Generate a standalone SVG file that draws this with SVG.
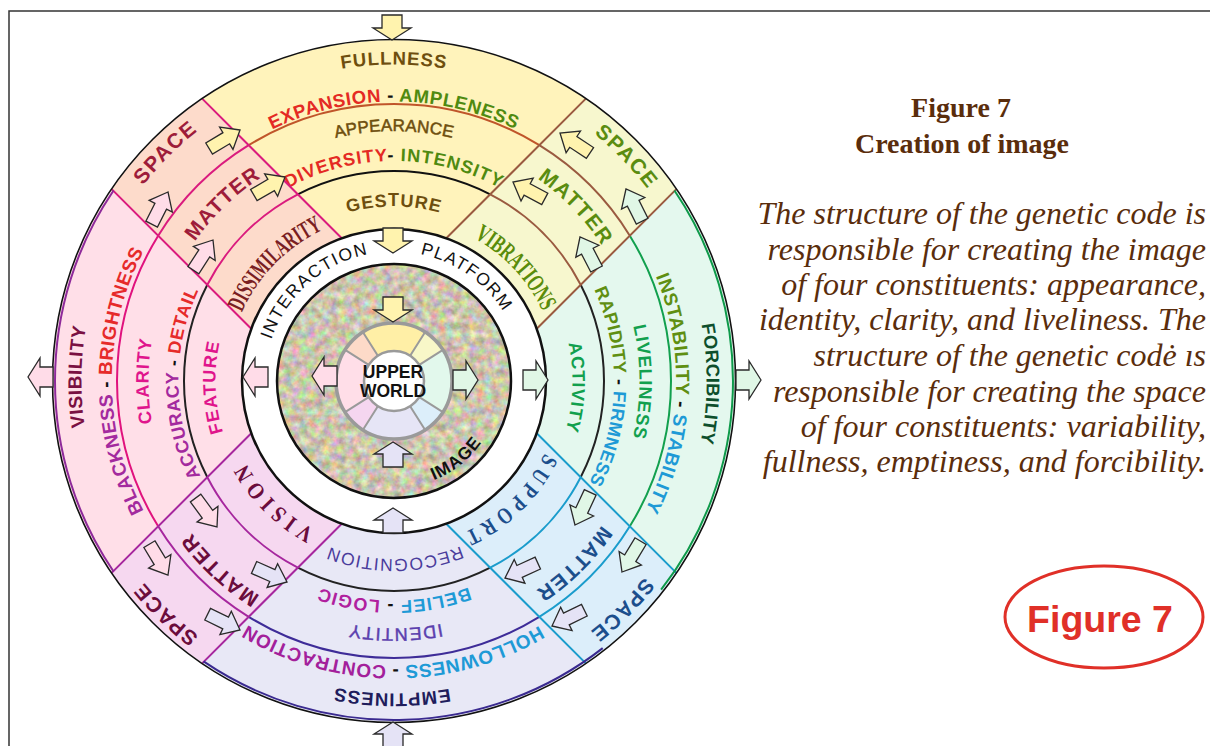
<svg xmlns="http://www.w3.org/2000/svg" width="1210" height="746" viewBox="0 0 1210 746">
<style>
.s{font-family:"Liberation Sans",Arial,sans-serif;font-weight:bold}
.r{font-family:"Liberation Sans",Arial,sans-serif;font-weight:normal}
.sf{font-family:"Liberation Serif","Times New Roman",serif}
.ln{fill:none;stroke-width:2}
.arr{stroke:#2a2a2a;stroke-width:1.3;stroke-linejoin:miter}
.ay{fill:#FFF3AE}.ap{fill:#FFDCE8}.am{fill:#E0F7E6}.al{fill:#E5E3F6}
.ug{fill:none;stroke:#9A9A9A}
</style>
<defs>
<path id="a316_5" d="M394,697.5 A316.5,316.5 0 1 1 394,64.5 A316.5,316.5 0 1 1 394,697.5"/>
<path id="a279_5" d="M394,660.5 A279.5,279.5 0 1 1 394,101.5 A279.5,279.5 0 1 1 394,660.5"/>
<path id="a250" d="M394,631 A250,250 0 1 1 394,131 A250,250 0 1 1 394,631"/>
<path id="a220" d="M394,601 A220,220 0 1 1 394,161 A220,220 0 1 1 394,601"/>
<path id="a174_5" d="M394,555.5 A174.5,174.5 0 1 1 394,206.5 A174.5,174.5 0 1 1 394,555.5"/>
<path id="a312_5" d="M394,693.5 A312.5,312.5 0 1 1 394,68.5 A312.5,312.5 0 1 1 394,693.5"/>
<path id="a282" d="M394,663 A282,282 0 1 1 394,99 A282,282 0 1 1 394,663"/>
<path id="a245_5" d="M394,626.5 A245.5,245.5 0 1 1 394,135.5 A245.5,245.5 0 1 1 394,626.5"/>
<path id="a178_5" d="M394,559.5 A178.5,178.5 0 1 1 394,202.5 A178.5,178.5 0 1 1 394,559.5"/>
<path id="a215_5" d="M394,596.5 A215.5,215.5 0 1 1 394,165.5 A215.5,215.5 0 1 1 394,596.5"/>
<path id="a318" d="M394,699 A318,318 0 1 1 394,63 A318,318 0 1 1 394,699"/>
<path id="a321" d="M394,702 A321,321 0 1 1 394,60 A321,321 0 1 1 394,702"/>
<path id="a243" d="M394,624 A243,243 0 1 1 394,138 A243,243 0 1 1 394,624"/>
<path id="a248" d="M394,629 A248,248 0 1 1 394,133 A248,248 0 1 1 394,629"/>
<path id="a253" d="M394,634 A253,253 0 1 1 394,128 A253,253 0 1 1 394,634"/>
<path id="a167" d="M394,548 A167,167 0 1 1 394,214 A167,167 0 1 1 394,548"/>
<path id="a164" d="M394,545 A164,164 0 1 1 394,217 A164,164 0 1 1 394,545"/>
<path id="a169" d="M394,550 A169,169 0 1 1 394,212 A169,169 0 1 1 394,550"/>
<path id="a129_5" d="M394,510.5 A129.5,129.5 0 1 1 394,251.5 A129.5,129.5 0 1 1 394,510.5"/>
<path id="b312_5" d="M394,68.5 A312.5,312.5 0 1 1 394,693.5 A312.5,312.5 0 1 1 394,68.5"/>
<path id="b284_5" d="M394,96.5 A284.5,284.5 0 1 1 394,665.5 A284.5,284.5 0 1 1 394,96.5"/>
<path id="b247_5" d="M394,133.5 A247.5,247.5 0 1 1 394,628.5 A247.5,247.5 0 1 1 394,133.5"/>
<path id="b219_5" d="M394,161.5 A219.5,219.5 0 1 1 394,600.5 A219.5,219.5 0 1 1 394,161.5"/>
<path id="b178" d="M394,203 A178,178 0 1 1 394,559 A178,178 0 1 1 394,203"/>
<path id="c107" d="M394,274 A107,107 0 1 0 394,488 A107,107 0 1 0 394,274"/>
<path id="ab" d="M0,0 L-12,-19 L-12,-10 L-25,-10 L-25,10 L-12,10 L-12,19 Z"/>
<path id="as" d="M0,0 L-16,-13 L-16,-6.5 L-36,-6.5 L-36,6.5 L-16,6.5 L-16,13 Z"/>
<filter id="tex" x="-5%" y="-5%" width="110%" height="110%" color-interpolation-filters="sRGB">
<feTurbulence type="fractalNoise" baseFrequency="0.13" numOctaves="3" seed="4" result="n"/>
<feColorMatrix in="n" type="matrix" values="0.55 0 0 0 0.525  0 0.55 0 0 0.5  0 0 0.6 0 0.38  0 0 0 0 1" result="c"/>
<feGaussianBlur in="c" stdDeviation="0.6" result="b"/>
<feComposite in="b" in2="SourceGraphic" operator="in"/>
</filter>
</defs>

<path id="frame" d="M9,746 V11 H1210" fill="none" stroke="#333" stroke-width="1.5"/>

<g id="sector-top">
<path d="M202.41,98.91 A341,341 0 0 1 585.59,98.91 L446.24,238.26 A152,152 0 0 0 341.76,238.26 Z" fill="#FFF3BB"/>
<path class="ln" stroke="#C0552A" d="M248.68,145.18 A277,277 0 0 1 539.32,145.18"/>
<path class="ln" stroke="#111" d="M297.82,194.32 A210,210 0 0 1 490.18,194.32"/>
<text class="s" font-size="18.5" fill="#6E4E0E" letter-spacing="1" text-anchor="middle"><textPath href="#a316_5" startOffset="50%">FULLNESS</textPath></text>
<text class="s" font-size="18.5" letter-spacing="0.65" text-anchor="middle"><textPath href="#a279_5" startOffset="50%"><tspan fill="#E42A24">EXPANSION</tspan><tspan fill="#111"> - </tspan><tspan fill="#4F8A10">AMPLENESS</tspan></textPath></text>
<text class="r" font-size="17" fill="#6E4E0E" stroke="#6E4E0E" stroke-width="0.5" letter-spacing="0.2" text-anchor="middle"><textPath href="#a250" startOffset="50%">APPEARANCE</textPath></text>
<text class="s" font-size="18" letter-spacing="1.1" text-anchor="middle"><textPath href="#a220" startOffset="50%"><tspan fill="#E42A24">DIVERSITY</tspan><tspan fill="#111">- </tspan><tspan fill="#4F8A10">INTENSITY</tspan></textPath></text>
<text class="s" font-size="18" fill="#6E4E0E" letter-spacing="1" text-anchor="middle"><textPath href="#a174_5" startOffset="50%">GESTURE</textPath></text>
</g>

<g id="sector-right">
<path d="M676.09,189.41 A341,341 0 0 1 676.09,572.59 L536.74,433.24 A152,152 0 0 0 536.74,328.76 Z" fill="#E4F8EE"/>
<path class="ln" stroke="#12A04E" d="M629.82,235.68 A277,277 0 0 1 629.82,526.32"/>
<path class="ln" stroke="#222" d="M580.68,284.82 A210,210 0 0 1 580.68,477.18"/>
<text class="s" font-size="18.5" fill="#0D4F2C" letter-spacing="0.3" text-anchor="middle"><textPath href="#a312_5" startOffset="75.14%">FORCIBILITY</textPath></text>
<text class="s" font-size="19" letter-spacing="0.54" text-anchor="middle"><textPath href="#a282" startOffset="75.75%"><tspan fill="#5F8F12">INSTABILITY</tspan><tspan fill="#111"> - </tspan><tspan fill="#1E9AD6">STABILITY</tspan></textPath></text>
<text class="s" font-size="18" fill="#12A04E" letter-spacing="0.8" text-anchor="middle"><textPath href="#a245_5" startOffset="75.06%">LIVELINESS</textPath></text>
<text class="s" font-size="18" letter-spacing="0.4" text-anchor="middle"><textPath href="#a220" startOffset="75.42%"><tspan fill="#5F8F12">RAPIDITY</tspan><tspan fill="#111"> - </tspan><tspan fill="#1E9AD6">FIRMNESS</tspan></textPath></text>
<text class="s" font-size="18" fill="#12A04E" letter-spacing="0.86" text-anchor="middle"><textPath href="#a178_5" startOffset="75.56%">ACTIVITY</textPath></text>
</g>

<g id="sector-bottom">
<path d="M585.59,663.09 A341,341 0 0 1 202.41,663.09 L341.76,523.74 A152,152 0 0 0 446.24,523.74 Z" fill="#E8E8F6"/>
<path class="ln" stroke="#3E2C98" d="M539.32,616.82 A277,277 0 0 1 248.68,616.82"/>
<path class="ln" stroke="#222" d="M490.18,567.68 A210,210 0 0 1 297.82,567.68"/>
<text class="s" font-size="18.5" fill="#201C5C" letter-spacing="1" text-anchor="middle"><textPath href="#b312_5" startOffset="50.11%">EMPTINESS</textPath></text>
<text class="s" font-size="19" letter-spacing="0.55" text-anchor="middle"><textPath href="#b284_5" startOffset="50.06%"><tspan fill="#1E9AD6">HOLLOWNESS</tspan><tspan fill="#111"> - </tspan><tspan fill="#A3209B">CONTRACTION</tspan></textPath></text>
<text class="r" font-size="18" fill="#5B3FAE" stroke="#5B3FAE" stroke-width="0.45" letter-spacing="1.4" text-anchor="middle"><textPath href="#b247_5" startOffset="49.92%">IDENTITY</textPath></text>
<text class="s" font-size="18" letter-spacing="1.1" text-anchor="middle"><textPath href="#b219_5" startOffset="50%"><tspan fill="#1E9AD6">BELIEF</tspan><tspan fill="#111"> - </tspan><tspan fill="#B0209E">LOGIC</tspan></textPath></text>
<text class="r" font-size="17.5" fill="#4A3C9C" letter-spacing="1.05" text-anchor="middle"><textPath href="#b178" startOffset="49.92%">RECOGNITION</textPath></text>
</g>

<g id="sector-left">
<path d="M111.91,572.59 A341,341 0 0 1 111.91,189.41 L251.26,328.76 A152,152 0 0 0 251.26,433.24 Z" fill="#FFDFE8"/>
<path class="ln" stroke="#E0127E" d="M158.18,526.32 A277,277 0 0 1 158.18,235.68"/>
<path class="ln" stroke="#222" d="M207.32,477.18 A210,210 0 0 1 207.32,284.82"/>
<text class="s" font-size="19" fill="#7A1042" letter-spacing="0.5" text-anchor="middle"><textPath href="#a312_5" startOffset="25.22%">VISIBILITY</textPath></text>
<text class="s" font-size="19" letter-spacing="0.5" text-anchor="middle"><textPath href="#a282" startOffset="25%"><tspan fill="#A32A9E">BLACKNESS</tspan><tspan fill="#111"> - </tspan><tspan fill="#E62A2A">BRIGHTNESS</tspan></textPath></text>
<text class="s" font-size="18" fill="#E0158C" letter-spacing="1" text-anchor="middle"><textPath href="#a245_5" startOffset="25%">CLARITY</textPath></text>
<text class="s" font-size="18" letter-spacing="0.6" text-anchor="middle"><textPath href="#a215_5" startOffset="24.83%"><tspan fill="#A32A9E">ACCURACY</tspan><tspan fill="#111"> - </tspan><tspan fill="#E62A2A">DETAIL</tspan></textPath></text>
<text class="s" font-size="18" fill="#E0158C" letter-spacing="1.15" text-anchor="middle"><textPath href="#a178_5" startOffset="24.44%">FEATURE</textPath></text>
</g>

<g id="band-top-left">
<path d="M111.91,189.41 A341,341 0 0 1 202.41,98.91 L341.76,238.26 A152,152 0 0 0 251.26,328.76 Z" fill="#FDDBCB"/>
<path class="ln" stroke="#DA1B7E" d="M158.18,235.68 A277,277 0 0 1 248.68,145.18 M207.32,284.82 A210,210 0 0 1 297.82,194.32 M341.76,238.26 L202.41,98.91 M251.26,328.76 L111.91,189.41"/>
<text class="s" font-size="21" fill="#9E1C3A" letter-spacing="1.5" text-anchor="middle"><textPath href="#a318" startOffset="37.5%">SPACE</textPath></text>
<text class="s" font-size="21" fill="#9E1C3A" letter-spacing="1.2" text-anchor="middle"><textPath href="#a243" startOffset="37.78%">MATTER</textPath></text>
<text class="sf" font-size="25" font-weight="bold" fill="#7A1E22" text-anchor="middle"><textPath href="#a167" startOffset="37.36%" textLength="118" lengthAdjust="spacingAndGlyphs">DISSIMILARITY</textPath></text>
</g>

<g id="band-top-right">
<path d="M585.59,98.91 A341,341 0 0 1 676.09,189.41 L536.74,328.76 A152,152 0 0 0 446.24,238.26 Z" fill="#F7F7CE"/>
<path class="ln" stroke="#9A5A40" d="M539.32,145.18 A277,277 0 0 1 629.82,235.68 M490.18,194.32 A210,210 0 0 1 580.68,284.82 M446.24,238.26 L585.59,98.91 M536.74,328.76 L676.09,189.41"/>
<text class="s" font-size="21" fill="#5A8C10" letter-spacing="1.5" text-anchor="middle"><textPath href="#a318" startOffset="62.78%">SPACE</textPath></text>
<text class="s" font-size="21" fill="#5A8C10" letter-spacing="1.5" text-anchor="middle"><textPath href="#a248" startOffset="62.86%">MATTER</textPath></text>
<text class="sf" font-size="25" font-weight="bold" fill="#5A8C0A" text-anchor="middle"><textPath href="#a164" startOffset="63.06%" textLength="102" lengthAdjust="spacingAndGlyphs">VIBRATIONS</textPath></text>
</g>

<g id="band-bottom-right">
<path d="M676.09,572.59 A341,341 0 0 1 585.59,663.09 L446.24,523.74 A152,152 0 0 0 536.74,433.24 Z" fill="#DCEEFA"/>
<path class="ln" stroke="#1A9CCC" d="M629.82,526.32 A277,277 0 0 1 539.32,616.82 M580.68,477.18 A210,210 0 0 1 490.18,567.68 M536.74,433.24 L676.09,572.59 M446.24,523.74 L585.59,663.09"/>
<text class="s" font-size="21" fill="#1C4E8C" letter-spacing="1.5" text-anchor="middle"><textPath href="#a318" startOffset="87.53%">SPACE</textPath></text>
<text class="s" font-size="21" fill="#1C4E8C" letter-spacing="1.5" text-anchor="middle"><textPath href="#a253" startOffset="87.64%">MATTER</textPath></text>
<text class="sf" font-size="23" font-weight="bold" fill="#1C4E8C" letter-spacing="7" text-anchor="middle"><textPath href="#a167" startOffset="87.83%" textLength="120" lengthAdjust="spacingAndGlyphs">SUPPORT</textPath></text>
</g>

<g id="band-bottom-left">
<path d="M202.41,663.09 A341,341 0 0 1 111.91,572.59 L251.26,433.24 A152,152 0 0 0 341.76,523.74 Z" fill="#F6D8F0"/>
<path class="ln" stroke="#A6279E" d="M248.68,616.82 A277,277 0 0 1 158.18,526.32 M297.82,567.68 A210,210 0 0 1 207.32,477.18 M341.76,523.74 L202.41,663.09 M251.26,433.24 L111.91,572.59"/>
<text class="s" font-size="21" fill="#6B0C3C" letter-spacing="1.5" text-anchor="middle"><textPath href="#a321" startOffset="12.33%">SPACE</textPath></text>
<text class="s" font-size="21" fill="#6B0C3C" letter-spacing="1.5" text-anchor="middle"><textPath href="#a253" startOffset="11.86%">MATTER</textPath></text>
<text class="sf" font-size="23" font-weight="bold" fill="#6B0C3C" letter-spacing="6" text-anchor="middle"><textPath href="#a169" startOffset="12.56%" textLength="102" lengthAdjust="spacingAndGlyphs">VISION</textPath></text>
</g>

<g id="outer-rim">
<circle cx="394" cy="381" r="341.5" fill="none" stroke="#111" stroke-width="1.6"/>
<path class="ln" stroke="#8E2A9A" stroke-width="3" d="M113.55,571.45 A339,339 0 0 1 113.55,190.55"/>
<path class="ln" stroke="#0E9A4A" stroke-width="3" d="M674.45,190.55 A339,339 0 0 1 661.1,589.7"/>
<path class="ln" stroke="#3A2A90" stroke-width="3" d="M602.7,648.1 A339,339 0 0 1 203.55,661.45"/>
</g>

<g id="interaction-platform">
<circle cx="394" cy="381" r="152" fill="#fff" stroke="#111" stroke-width="2.5"/>
<text class="r" font-size="17.5" fill="#111" letter-spacing="1.6" text-anchor="middle"><textPath href="#a129_5" startOffset="38.53%">INTERACTION</textPath></text>
<text class="r" font-size="17.5" fill="#111" letter-spacing="1.3" text-anchor="middle"><textPath href="#a129_5" startOffset="59.67%">PLATFORM</textPath></text>
</g>

<g id="image">
<circle cx="394" cy="381" r="117" fill="#000" filter="url(#tex)"/>
<circle cx="394" cy="381" r="117" fill="none" stroke="#111" stroke-width="2.5"/>
<text class="s" font-size="17.5" fill="#111" letter-spacing="1" text-anchor="middle"><textPath href="#c107" startOffset="60.72%">IMAGE</textPath></text>
</g>

<g id="upper-world">
<path d="M362.84,332.08 A58,58 0 0 1 425.16,332.08 L410.12,355.7 A30,30 0 0 0 377.88,355.7 Z" fill="#FFEFA6"/>
<path d="M425.16,332.08 A58,58 0 0 1 442.92,349.84 L419.3,364.88 A30,30 0 0 0 410.12,355.7 Z" fill="#F8F7C8"/>
<path d="M442.92,349.84 A58,58 0 0 1 442.92,412.16 L419.3,397.12 A30,30 0 0 0 419.3,364.88 Z" fill="#E2F8EC"/>
<path d="M442.92,412.16 A58,58 0 0 1 425.16,429.92 L410.12,406.3 A30,30 0 0 0 419.3,397.12 Z" fill="#DCEEFA"/>
<path d="M425.16,429.92 A58,58 0 0 1 362.84,429.92 L377.88,406.3 A30,30 0 0 0 410.12,406.3 Z" fill="#E6E5F6"/>
<path d="M362.84,429.92 A58,58 0 0 1 345.08,412.16 L368.7,397.12 A30,30 0 0 0 377.88,406.3 Z" fill="#F5D6F0"/>
<path d="M345.08,412.16 A58,58 0 0 1 345.08,349.84 L368.7,364.88 A30,30 0 0 0 368.7,397.12 Z" fill="#FFDEE8"/>
<path d="M345.08,349.84 A58,58 0 0 1 362.84,332.08 L377.88,355.7 A30,30 0 0 0 368.7,364.88 Z" fill="#FDDAC8"/>
<path class="ug" stroke-width="2" d="M362.84,332.08 L377.88,355.7 M425.16,332.08 L410.12,355.7 M442.92,349.84 L419.3,364.88 M442.92,412.16 L419.3,397.12 M425.16,429.92 L410.12,406.3 M362.84,429.92 L377.88,406.3 M345.08,412.16 L368.7,397.12 M345.08,349.84 L368.7,364.88"/>
<circle cx="394" cy="381" r="58" class="ug" stroke-width="3.5"/>
<circle cx="394" cy="381" r="30" fill="#fff" stroke="#9A9A9A" stroke-width="2.5"/>
<text class="s" font-size="17.5" fill="#111" text-anchor="middle" x="393" y="378">UPPER</text>
<text class="s" font-size="17.5" fill="#111" text-anchor="middle" x="393" y="397">WORLD</text>
</g>

<g id="connectors" class="arr">
<use href="#ab" class="ay" transform="translate(392,40) rotate(90)"/>
<use href="#ab" class="al" transform="translate(393,722) rotate(-90)"/>
<use href="#ab" class="ap" transform="translate(28,377) rotate(180)"/>
<use href="#ab" class="am" transform="translate(761,380)"/>
<use href="#ab" class="ay" transform="translate(393,253) rotate(90)"/>
<use href="#ab" class="ap" transform="translate(243,377) rotate(180)"/>
<use href="#ab" class="am" transform="translate(548,380)"/>
<use href="#ab" class="al" transform="translate(393,508) rotate(-90)"/>
<use href="#ab" class="ay" transform="translate(393,322) rotate(90)"/>
<use href="#ab" class="ap" transform="translate(312,376) rotate(180)"/>
<use href="#ab" class="am" transform="translate(478,380)"/>
<use href="#ab" class="al" transform="translate(393,442) rotate(-90)"/>
<use href="#as" class="ay" transform="translate(240,130) rotate(-31)"/>
<use href="#as" class="ay" transform="translate(285,177) rotate(-30)"/>
<use href="#as" class="ap" transform="translate(168,192) rotate(-63)"/>
<use href="#as" class="ap" transform="translate(213,240) rotate(-57)"/>
<use href="#as" class="ay" transform="translate(560,133) rotate(213.7)"/>
<use href="#as" class="ay" transform="translate(513,182) rotate(208)"/>
<use href="#as" class="am" transform="translate(626,189) rotate(243.4)"/>
<use href="#as" class="am" transform="translate(580,237) rotate(242.7)"/>
<use href="#as" class="am" transform="translate(575,525) rotate(115)"/>
<use href="#as" class="am" transform="translate(622,572) rotate(121)"/>
<use href="#as" class="al" transform="translate(505,578) rotate(155.6)"/>
<use href="#as" class="al" transform="translate(552,626) rotate(154)"/>
<use href="#as" class="ap" transform="translate(217,527) rotate(53.5)"/>
<use href="#as" class="ap" transform="translate(168,575) rotate(59)"/>
<use href="#as" class="al" transform="translate(287,582) rotate(23.8)"/>
<use href="#as" class="al" transform="translate(240,630) rotate(26)"/>
</g>

<g id="caption" fill="#5A2D0C">
<text class="sf" font-weight="bold" font-size="28" text-anchor="middle" x="961" y="117">Figure 7</text>
<text class="sf" font-weight="bold" font-size="28" text-anchor="middle" x="962" y="153">Creation of image</text>
<g class="sf" font-style="italic" font-size="32" text-anchor="end">
<text x="1206" y="224">The structure of the genetic code is</text>
<text x="1206" y="260">responsible for creating the image</text>
<text x="1206" y="295">of four constituents: appearance,</text>
<text x="1206" y="330">identity, clarity, and liveliness. The</text>
<text x="1206" y="366">structure of the genetic codė ıs</text>
<text x="1206" y="402">responsible for creating the space</text>
<text x="1206" y="437">of four constituents: variability,</text>
<text x="1206" y="472">fullness, emptiness, and forcibility.</text>
</g>
</g>

<g id="figure-label">
<ellipse cx="1104" cy="617" rx="99" ry="51" fill="none" stroke="#E03028" stroke-width="3"/>
<text class="s" font-size="37.5" fill="#E03028" text-anchor="middle" x="1100" y="632">Figure 7</text>
</g>
</svg>
